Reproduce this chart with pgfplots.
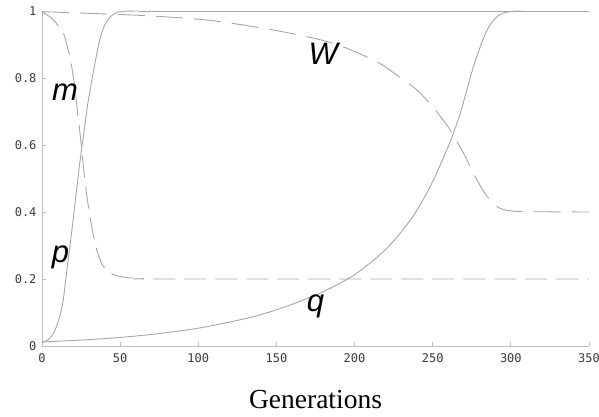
\documentclass[border=0pt]{standalone}
\usepackage{fontspec}
\setmainfont{Liberation Serif}
\newfontfamily\monofont{DejaVu Sans Mono}
\newfontfamily\labfont{Liberation Sans}
\usepackage{pgfplots}
\pgfplotsset{compat=1.18}
\definecolor{curve}{HTML}{A6A6A6}
\definecolor{axisgray}{HTML}{BDBDBD}
\definecolor{ticktext}{HTML}{3A3A3A}
\begin{document}
\begin{tikzpicture}
\begin{axis}[
    name=ax, at={(0,0)}, anchor=south west,
    scale only axis, width=547pt, height=335pt,
    xmin=0, xmax=350, ymin=0, ymax=1,
    axis x line=bottom, axis y line=left,
    axis line style={draw=axisgray, line width=0.8pt, -},
    xtick={0,50,...,350}, ytick={0,0.2,0.4,0.6,0.8,1},
    tick align=inside, major tick length=4pt,
    tick style={draw=axisgray, line width=0.8pt},
    /pgf/number format/assume math mode=true,
    tick label style={font=\monofont\fontsize{12}{12}\selectfont, text=ticktext},
    xticklabel style={yshift=-4pt},
    yticklabel style={xshift=-2pt},
    xlabel={Generations},
    xlabel style={font=\fontsize{27.5}{28}\selectfont, at={(axis description cs:0.5,0)}, anchor=base, yshift=-62pt},
    clip=false,
]
% p
\addplot[curve, line width=0.9pt, smooth] coordinates {
(0,0.010) (3,0.016) (6,0.028) (8.3,0.048) (10,0.068) (12,0.100) (13.6,0.137)
(15,0.190) (16.5,0.248) (18.1,0.307) (20,0.380) (22.2,0.470) (24,0.540)
(25.4,0.590) (27,0.645) (29.6,0.732) (33.5,0.834) (37,0.915) (40,0.957)
(43.5,0.982) (46,0.991) (48,0.996) (51,0.998) (54,0.9993) (58,0.9998) (62,1)};
\addplot[curve, line width=0.9pt] coordinates {(62,1) (350,1)};
% m
\addplot[curve, line width=0.9pt, smooth, dash pattern=on 22pt off 9pt] coordinates {
(0,0.997) (4,0.986) (7.2,0.974) (10,0.958) (13.6,0.935) (16.8,0.884) (19,0.834)
(21,0.772) (22.6,0.704) (25,0.606) (27.5,0.490) (30.7,0.386) (33,0.328)
(35,0.287) (37,0.260) (39.2,0.238) (43,0.220) (47.8,0.210) (55,0.204)
(65,0.201) (80,0.2) (350,0.2)};
% W
\addplot[curve, line width=0.9pt, smooth, dash pattern=on 27pt off 11pt] coordinates {
(0,0.998) (30,0.993) (67,0.986) (101,0.975) (122,0.963) (154,0.938) (186,0.904)
(214,0.849) (229,0.802) (240,0.764) (250,0.714) (259,0.660) (263,0.630)
(268.6,0.585) (271.6,0.558) (275,0.525) (279,0.490) (283.4,0.456)
(287.7,0.431) (293,0.411) (300.5,0.403) (312,0.401) (350,0.4)};
% q
\addplot[curve, line width=0.9pt, smooth] coordinates {
(0,0.012) (37,0.021) (69,0.034) (101,0.054) (133,0.085) (155,0.116) (178,0.158)
(197,0.204) (210,0.248) (220,0.289) (230,0.341) (240,0.406) (250,0.491) (259,0.585)
(263,0.632) (268,0.700) (272,0.768) (276,0.833) (280,0.888) (283,0.925)
(286.6,0.958) (290,0.978) (293,0.989) (296,0.995) (299.5,0.998) (303,0.9995) (307,1)};
\addplot[curve, line width=0.9pt] coordinates {(307,1) (350,1)};
\node[font=\labfont\itshape\fontsize{31}{31}\selectfont, anchor=base] at (axis cs:14.7,0.734) {m};
\node[font=\labfont\itshape\fontsize{31}{31}\selectfont, anchor=base] at (axis cs:180,0.839) {W};
\node[font=\labfont\itshape\fontsize{31}{31}\selectfont, anchor=base] at (axis cs:11.8,0.248) {p};
\node[font=\labfont\itshape\fontsize{31}{31}\selectfont, anchor=base] at (axis cs:175,0.102) {q};
\end{axis}
\pgfresetboundingbox
\path[use as bounding box] (-42pt,-71pt) rectangle (557pt,346pt);
\end{tikzpicture}
\end{document}
